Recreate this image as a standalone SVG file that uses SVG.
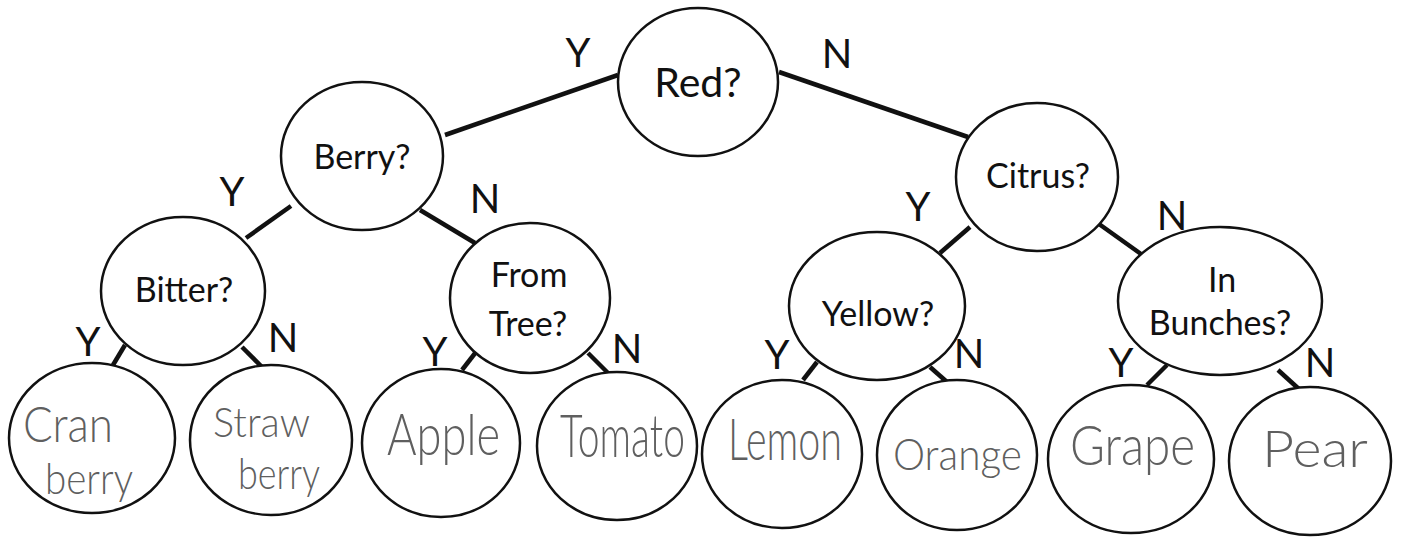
<svg xmlns="http://www.w3.org/2000/svg" width="1403" height="537" viewBox="0 0 1403 537">
  <style>
    .node ellipse { fill: #fff; stroke: #111; stroke-width: 2.5; }
    .q { font-family: Lato, "Open Sans", "Liberation Sans", sans-serif; font-size: 34px; fill: #111; text-anchor: middle; }
    .big { font-size: 41px; }
    .hand { font-family: Lato, "Liberation Sans", sans-serif; font-weight: 300; fill: #5f5f5f; }
    .yn { font-family: Lato, "Open Sans", "Liberation Sans", sans-serif; font-size: 40px; fill: #111; text-anchor: middle; }
    #edges line { stroke: #111; stroke-width: 4.5; stroke-linecap: butt; }
  </style>

  <!-- connectors -->
  <g id="edges">
    <line x1="445" y1="135" x2="618" y2="75"/>
    <line x1="779" y1="72" x2="968" y2="137"/>
    <line x1="291" y1="206" x2="246" y2="238"/>
    <line x1="420" y1="210" x2="475" y2="243"/>
    <line x1="125" y1="345" x2="113" y2="365"/>
    <line x1="242" y1="347" x2="262" y2="367"/>
    <line x1="476" y1="352" x2="462" y2="370"/>
    <line x1="588" y1="353" x2="608" y2="373"/>
    <line x1="970" y1="227" x2="940" y2="253"/>
    <line x1="1099" y1="224" x2="1141" y2="254"/>
    <line x1="817" y1="362" x2="803" y2="380"/>
    <line x1="930" y1="367" x2="947" y2="382"/>
    <line x1="1167" y1="365" x2="1147" y2="385"/>
    <line x1="1278" y1="370" x2="1300" y2="390"/>
  </g>

  <!-- branch labels -->
  <g id="labels" class="yn">
    <text x="578" y="67">Y</text>
    <text x="837" y="68">N</text>
    <text x="232" y="206">Y</text>
    <text x="485" y="213">N</text>
    <text x="88" y="356">Y</text>
    <text x="283" y="352">N</text>
    <text x="435" y="366">Y</text>
    <text x="627" y="363">N</text>
    <text x="918" y="221">Y</text>
    <text x="1172" y="230">N</text>
    <text x="777" y="369">Y</text>
    <text x="969" y="368">N</text>
    <text x="1121" y="377">Y</text>
    <text x="1320" y="377">N</text>
  </g>

  <!-- question nodes -->
  <g id="red" class="node">
    <ellipse cx="698" cy="82" rx="80" ry="74"/>
    <text class="q big" x="698" y="97">Red?</text>
  </g>
  <g id="berry" class="node">
    <ellipse cx="362" cy="156" rx="81" ry="74"/>
    <text class="q" x="362" y="169">Berry?</text>
  </g>
  <g id="bitter" class="node">
    <ellipse cx="183" cy="291" rx="82" ry="74"/>
    <text class="q" x="184" y="302">Bitter?</text>
  </g>
  <g id="from-tree" class="node">
    <ellipse cx="530" cy="298" rx="80" ry="75"/>
    <text class="q" x="529" y="287">From</text>
    <text class="q" x="528" y="336">Tree?</text>
  </g>
  <g id="citrus" class="node">
    <ellipse cx="1037" cy="177" rx="81" ry="74"/>
    <text class="q" x="1038" y="188">Citrus?</text>
  </g>
  <g id="yellow" class="node">
    <ellipse cx="877" cy="306" rx="88" ry="74"/>
    <text class="q" x="878" y="326">Yellow?</text>
  </g>
  <g id="in-bunches" class="node">
    <ellipse cx="1220" cy="301" rx="102" ry="74"/>
    <text class="q" x="1222" y="292">In</text>
    <text class="q" x="1220" y="335">Bunches?</text>
  </g>

  <!-- fruit leaves: handwritten words, stretched upward from their baselines -->
  <g id="cranberry" class="node">
    <ellipse cx="92" cy="438" rx="83" ry="75"/>
    <text class="hand" x="23" y="442" font-size="43" textLength="90" lengthAdjust="spacingAndGlyphs" transform="matrix(1 0 0 1.16 0 -70.7)">Cran</text>
    <text class="hand" x="45" y="494" font-size="38" textLength="88" lengthAdjust="spacingAndGlyphs" transform="matrix(1 0 0 1.12 0 -59.3)">berry</text>
  </g>
  <g id="strawberry" class="node">
    <ellipse cx="271" cy="440" rx="81" ry="75"/>
    <text class="hand" x="213" y="437" font-size="39" textLength="97" lengthAdjust="spacingAndGlyphs" transform="matrix(1 0 0 1.08 0 -35)">Straw</text>
    <text class="hand" x="238" y="489" font-size="36" textLength="82" lengthAdjust="spacingAndGlyphs" transform="matrix(1 0 0 1.18 0 -88)">berry</text>
  </g>
  <g id="apple" class="node">
    <ellipse cx="441" cy="443" rx="79" ry="74"/>
    <text class="hand" x="387" y="455" font-size="44" textLength="113" lengthAdjust="spacingAndGlyphs" transform="matrix(1 0 0 1.32 0 -145.6)">Apple</text>
  </g>
  <g id="tomato" class="node">
    <ellipse cx="617" cy="446" rx="80" ry="74"/>
    <text class="hand" x="560" y="457" font-size="37" textLength="125" lengthAdjust="spacingAndGlyphs" transform="matrix(1 0 0 1.62 0 -283.3)">Tomato</text>
  </g>
  <g id="lemon" class="node">
    <ellipse cx="782" cy="454" rx="80" ry="74"/>
    <text class="hand" x="728" y="460" font-size="38.5" textLength="114" lengthAdjust="spacingAndGlyphs" transform="matrix(1 0 0 1.5 0 -230)">Lemon</text>
  </g>
  <g id="orange" class="node">
    <ellipse cx="957" cy="455" rx="80" ry="75"/>
    <text class="hand" x="893" y="470" font-size="40" textLength="129" lengthAdjust="spacingAndGlyphs" transform="matrix(1 0 0 1.1 0 -47)">Orange</text>
  </g>
  <g id="grape" class="node">
    <ellipse cx="1131" cy="459" rx="83" ry="74"/>
    <text class="hand" x="1070" y="465" font-size="47" textLength="125" lengthAdjust="spacingAndGlyphs" transform="matrix(1 0 0 1.19 0 -88.35)">Grape</text>
  </g>
  <g id="pear" class="node">
    <ellipse cx="1310" cy="461" rx="81" ry="74"/>
    <text class="hand" x="1262" y="467" font-size="52" textLength="106" lengthAdjust="spacingAndGlyphs">Pear</text>
  </g>
</svg>
